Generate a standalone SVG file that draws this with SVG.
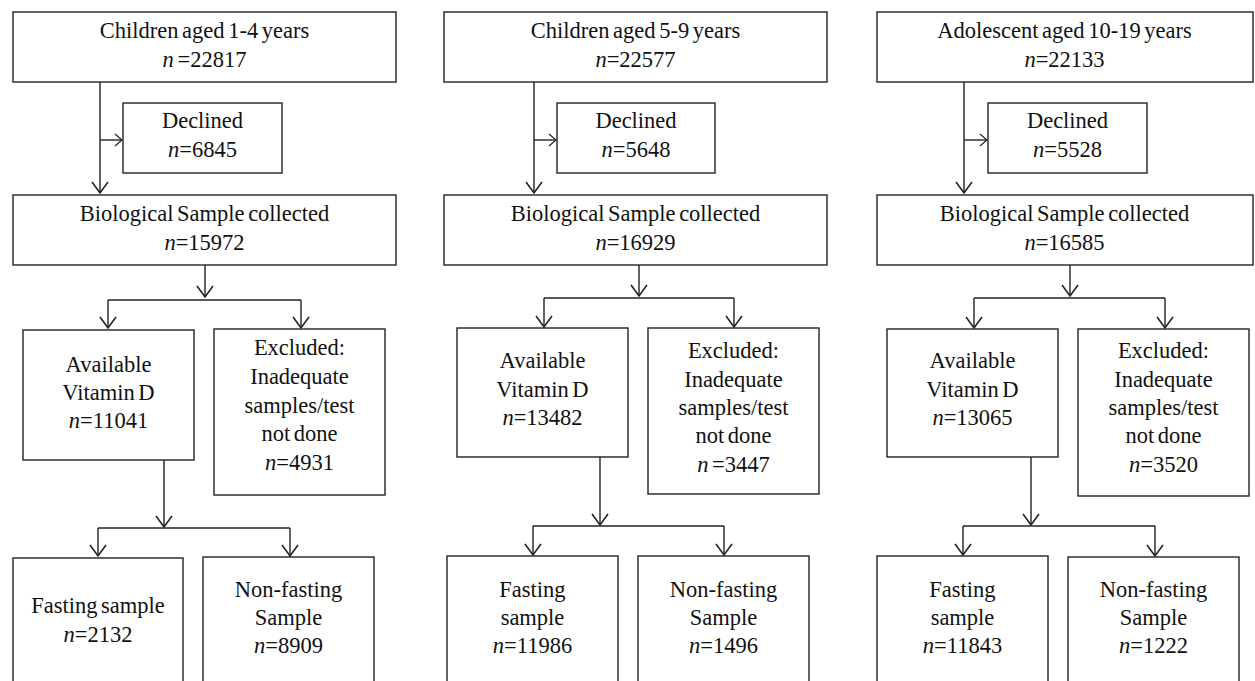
<svg xmlns="http://www.w3.org/2000/svg" width="1255" height="681" viewBox="0 0 1255 681">
<style>
.box{fill:#fff;stroke:#222;stroke-width:1.4}
.c{fill:none;stroke:#222;stroke-width:1.4}
text{font-family:"Liberation Serif","Times New Roman",serif;font-size:22.5px;fill:#111;text-anchor:middle;word-spacing:-2px}
.i{font-style:italic}
</style>
<defs>
<marker id="ah" markerUnits="userSpaceOnUse" markerWidth="14" markerHeight="20" viewBox="-12 -9 14 18" refX="0" refY="0" orient="auto">
<path d="M-11,-8 L0,0 L-11,8" fill="none" stroke="#222" stroke-width="1.6"/>
</marker>
<marker id="as" markerUnits="userSpaceOnUse" markerWidth="10" markerHeight="16" viewBox="-9 -7 10 14" refX="0" refY="0" orient="auto">
<path d="M-7,-6 L0,0 L-7,6" fill="none" stroke="#222" stroke-width="1.2"/>
</marker>
</defs>
<rect width="1255" height="681" fill="#fff"/>
<g id="connectors">
<path class="c" d="M100,82 V193" marker-end="url(#ah)"/>
<path class="c" d="M100,140 H122" marker-end="url(#as)"/>
<path class="c" d="M205,265 V297" marker-end="url(#ah)"/>
<path class="c" d="M108,300 H301"/>
<path class="c" d="M108,300 V328" marker-end="url(#ah)"/>
<path class="c" d="M301,300 V328" marker-end="url(#ah)"/>
<path class="c" d="M164,460 V527" marker-end="url(#ah)"/>
<path class="c" d="M98,528 H290"/>
<path class="c" d="M98,528 V556" marker-end="url(#ah)"/>
<path class="c" d="M290,528 V556" marker-end="url(#ah)"/>

<path class="c" d="M534,82 V193" marker-end="url(#ah)"/>
<path class="c" d="M534,140 H556" marker-end="url(#as)"/>
<path class="c" d="M639,265 V296" marker-end="url(#ah)"/>
<path class="c" d="M544,298 H734"/>
<path class="c" d="M544,298 V327" marker-end="url(#ah)"/>
<path class="c" d="M734,298 V327" marker-end="url(#ah)"/>
<path class="c" d="M600,457 V525" marker-end="url(#ah)"/>
<path class="c" d="M533,526 H724"/>
<path class="c" d="M533,526 V555" marker-end="url(#ah)"/>
<path class="c" d="M724,526 V555" marker-end="url(#ah)"/>

<path class="c" d="M964,82 V193" marker-end="url(#ah)"/>
<path class="c" d="M964,140 H987" marker-end="url(#as)"/>
<path class="c" d="M1070,265 V296" marker-end="url(#ah)"/>
<path class="c" d="M974,298 H1165"/>
<path class="c" d="M974,298 V328" marker-end="url(#ah)"/>
<path class="c" d="M1165,298 V328" marker-end="url(#ah)"/>
<path class="c" d="M1031,457 V525" marker-end="url(#ah)"/>
<path class="c" d="M963,526 H1155"/>
<path class="c" d="M963,526 V555" marker-end="url(#ah)"/>
<path class="c" d="M1155,526 V556" marker-end="url(#ah)"/>
</g>

<g id="c1-top"><rect class="box" x="13" y="12" width="383" height="70"/>
<text x="204.5" y="38">Children aged 1-4 years</text>
<text x="204.5" y="67"><tspan class="i">n</tspan> =22817</text></g>
<g id="c1-declined"><rect class="box" x="123" y="103" width="159" height="70"/>
<text x="202.5" y="128">Declined</text>
<text x="202.5" y="157"><tspan class="i">n</tspan>=6845</text></g>
<g id="c1-bio"><rect class="box" x="13" y="195" width="383" height="70"/>
<text x="204.5" y="221">Biological Sample collected</text>
<text x="204.5" y="250"><tspan class="i">n</tspan>=15972</text></g>
<g id="c1-avail"><rect class="box" x="23" y="330" width="171" height="130"/>
<text x="108.5" y="372">Available</text>
<text x="108.5" y="400">Vitamin D</text>
<text x="108.5" y="428"><tspan class="i">n</tspan>=11041</text></g>
<g id="c1-excl"><rect class="box" x="214" y="329" width="171" height="166"/>
<text x="299.5" y="355">Excluded:</text>
<text x="299.5" y="384">Inadequate</text>
<text x="299.5" y="413">samples/test</text>
<text x="299.5" y="441">not done</text>
<text x="299.5" y="470"><tspan class="i">n</tspan>=4931</text></g>
<g id="c1-fast"><rect class="box" x="13" y="558" width="170" height="140"/>
<text x="98" y="613">Fasting sample</text>
<text x="98" y="642"><tspan class="i">n</tspan>=2132</text></g>
<g id="c1-nonfast"><rect class="box" x="203" y="557" width="171" height="140"/>
<text x="288.5" y="597">Non-fasting</text>
<text x="288.5" y="625">Sample</text>
<text x="288.5" y="653"><tspan class="i">n</tspan>=8909</text></g>

<g id="c2-top"><rect class="box" x="444" y="12" width="383" height="70"/>
<text x="635.5" y="38">Children aged 5-9 years</text>
<text x="635.5" y="67"><tspan class="i">n</tspan>=22577</text></g>
<g id="c2-declined"><rect class="box" x="557" y="103" width="158" height="70"/>
<text x="636" y="128">Declined</text>
<text x="636" y="157"><tspan class="i">n</tspan>=5648</text></g>
<g id="c2-bio"><rect class="box" x="444" y="195" width="383" height="70"/>
<text x="635.5" y="221">Biological Sample collected</text>
<text x="635.5" y="250"><tspan class="i">n</tspan>=16929</text></g>
<g id="c2-avail"><rect class="box" x="457" y="328" width="171" height="129"/>
<text x="542.5" y="368">Available</text>
<text x="542.5" y="397">Vitamin D</text>
<text x="542.5" y="425"><tspan class="i">n</tspan>=13482</text></g>
<g id="c2-excl"><rect class="box" x="648" y="328" width="171" height="166"/>
<text x="733.5" y="358">Excluded:</text>
<text x="733.5" y="387">Inadequate</text>
<text x="733.5" y="415">samples/test</text>
<text x="733.5" y="443">not done</text>
<text x="733.5" y="472"><tspan class="i">n</tspan> =3447</text></g>
<g id="c2-fast"><rect class="box" x="447" y="556" width="171" height="140"/>
<text x="532.5" y="597">Fasting</text>
<text x="532.5" y="625">sample</text>
<text x="532.5" y="653"><tspan class="i">n</tspan>=11986</text></g>
<g id="c2-nonfast"><rect class="box" x="638" y="556" width="171" height="140"/>
<text x="723.5" y="597">Non-fasting</text>
<text x="723.5" y="625">Sample</text>
<text x="723.5" y="653"><tspan class="i">n</tspan>=1496</text></g>

<g id="c3-top"><rect class="box" x="877" y="12" width="376" height="70"/>
<text x="1064.5" y="38">Adolescent aged 10-19 years</text>
<text x="1064.5" y="67"><tspan class="i">n</tspan>=22133</text></g>
<g id="c3-declined"><rect class="box" x="988" y="103" width="159" height="70"/>
<text x="1067.5" y="128">Declined</text>
<text x="1067.5" y="157"><tspan class="i">n</tspan>=5528</text></g>
<g id="c3-bio"><rect class="box" x="877" y="195" width="376" height="70"/>
<text x="1064.5" y="221">Biological Sample collected</text>
<text x="1064.5" y="250"><tspan class="i">n</tspan>=16585</text></g>
<g id="c3-avail"><rect class="box" x="887" y="329" width="171" height="128"/>
<text x="972.5" y="368">Available</text>
<text x="972.5" y="397">Vitamin D</text>
<text x="972.5" y="425"><tspan class="i">n</tspan>=13065</text></g>
<g id="c3-excl"><rect class="box" x="1078" y="329" width="171" height="167"/>
<text x="1163.5" y="358">Excluded:</text>
<text x="1163.5" y="387">Inadequate</text>
<text x="1163.5" y="415">samples/test</text>
<text x="1163.5" y="443">not done</text>
<text x="1163.5" y="472"><tspan class="i">n</tspan>=3520</text></g>
<g id="c3-fast"><rect class="box" x="877" y="556" width="171" height="140"/>
<text x="962.5" y="597">Fasting</text>
<text x="962.5" y="625">sample</text>
<text x="962.5" y="653"><tspan class="i">n</tspan>=11843</text></g>
<g id="c3-nonfast"><rect class="box" x="1068" y="557" width="171" height="140"/>
<text x="1153.5" y="597">Non-fasting</text>
<text x="1153.5" y="625">Sample</text>
<text x="1153.5" y="653"><tspan class="i">n</tspan>=1222</text></g>
</svg>
